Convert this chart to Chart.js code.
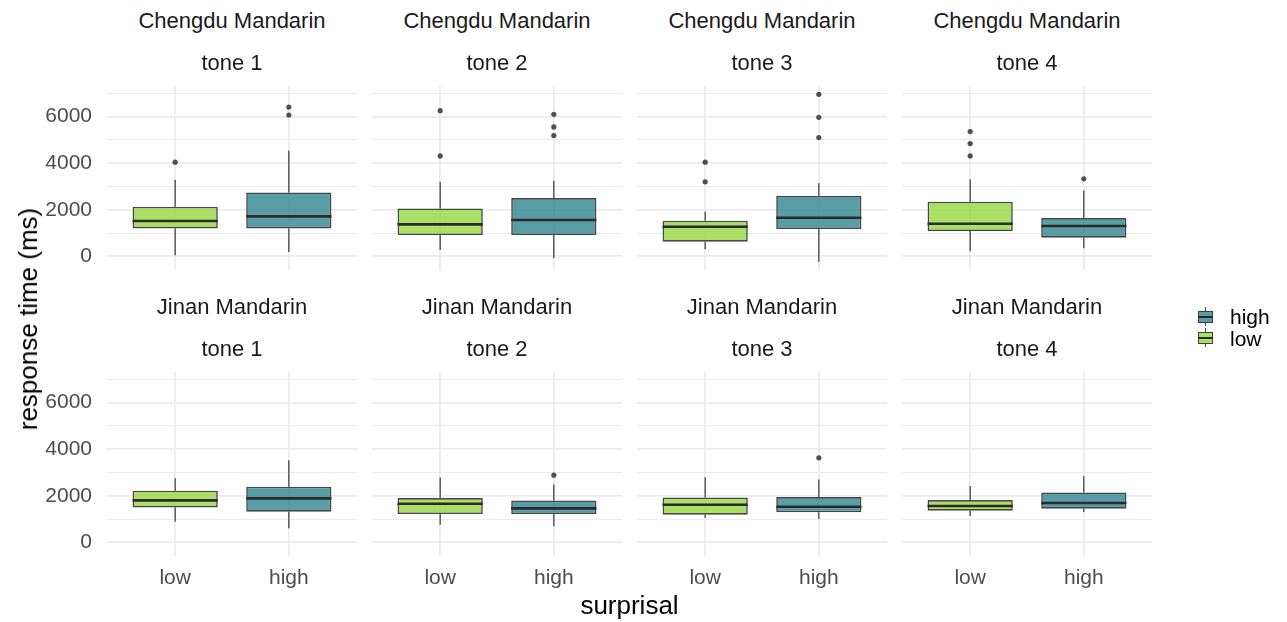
<!DOCTYPE html>
<html>
<head>
<meta charset="utf-8">
<script src="https://cdn.jsdelivr.net/npm/chart.js@4"></script>
<style>
  body { margin: 0; background: #fff; font-family: "Liberation Sans", Arial, sans-serif; }
  #wrap { position: relative; width: 1287px; height: 622px; overflow: hidden; }
  .panel { position: absolute; }
  .strip { position: absolute; width: 250px; text-align: center; font-size: 22px; line-height: 22px; color: #1a1a1a; white-space: nowrap; }
  .title { position: absolute; font-size: 26px; line-height: 26px; color: #000; white-space: nowrap; }
  .legtext { position: absolute; font-size: 21px; line-height: 21px; color: #000; }
  .kpart { position: absolute; box-sizing: border-box; }
</style>
</head>
<body>
<div id="wrap"></div>
<script>
// facets and categories
const dialects = ['Chengdu Mandarin', 'Jinan Mandarin'];
const tones = ['tone 1', 'tone 2', 'tone 3', 'tone 4'];
const surprisal = ['low', 'high'];
const yTicks = [0, 2000, 4000, 6000];
const yMinor = [1000, 3000, 5000, 7000];

// box statistics, one entry per panel: Chengdu tone 1-4, then Jinan tone 1-4
const lowWhiskerMin = [43, 271, 300, 214, 886, 757, 1043, 1129];
const lowQ1 = [1200, 914, 629, 1086, 1500, 1214, 1186, 1357];
const lowMedian = [1514, 1371, 1271, 1400, 1800, 1657, 1614, 1557];
const lowQ3 = [2129, 2057, 1529, 2343, 2214, 1900, 1929, 1814];
const lowWhiskerMax = [3286, 3200, 1929, 3314, 2757, 2786, 2800, 2414];
const lowOutliers = [[4043], [6257, 4314], [4043, 3200], [5357, 4843, 4314], [], [], [], []];

const highWhiskerMin = [186, -71, -229, 343, 600, 686, 1000, 1300];
const highQ1 = [1200, 914, 1171, 800, 1314, 1214, 1286, 1443];
const highMedian = [1714, 1557, 1657, 1300, 1886, 1457, 1529, 1686];
const highQ3 = [2743, 2500, 2600, 1643, 2386, 1800, 1943, 2143];
const highWhiskerMax = [4543, 3243, 3143, 2829, 3529, 2486, 2700, 2843];
const highOutliers = [[6414, 6071], [6100, 5557, 5186], [6957, 5971, 5100], [3329], [], [2886], [3629], []];

const FILL_LOW = 'rgba(149, 216, 64, 0.8)';
const FILL_HIGH = 'rgba(42, 131, 142, 0.78)';
const EDGE = 'rgba(51, 51, 51, 0.9)';
const GRID = '#ebebeb';
const BOX_HALF = 0.375;

Chart.defaults.font.family = '"Liberation Sans", Arial, sans-serif';

const wrap = document.getElementById('wrap');
const PANEL_W = 250, PANEL_H = 184, PAD = 30, XAX = 40;
const panelTops = [86, 372];

function el(cls, css, text) {
  const d = document.createElement('div');
  d.className = cls;
  Object.assign(d.style, css);
  if (text !== undefined) d.textContent = text;
  wrap.appendChild(d);
  return d;
}

// line data with breaks between segments
function segments(list) {
  const out = [];
  list.forEach(s => {
    out.push({x: s[0], y: s[1]}, {x: s[2], y: s[3]}, {x: s[2], y: null});
  });
  return out;
}

for (let i = 0; i < 8; i++) {
  const row = Math.floor(i / 4);
  const col = i % 4;
  const left = 107 + 265 * col;
  const top = panelTops[row];

  const stats = [
    [lowWhiskerMin[i], lowQ1[i], lowMedian[i], lowQ3[i], lowWhiskerMax[i]],
    [highWhiskerMin[i], highQ1[i], highMedian[i], highQ3[i], highWhiskerMax[i]]
  ];
  const outliers = [lowOutliers[i], highOutliers[i]];

  const box = el('panel', {
    left: (col === 0 ? 0 : left) + 'px',
    top: (top - PAD) + 'px',
    width: (col === 0 ? left + PANEL_W : PANEL_W) + 'px',
    height: (PAD + PANEL_H + (row === 1 ? XAX : 0) + PAD) + 'px'
  });
  const canvas = document.createElement('canvas');
  box.appendChild(canvas);

  const outlierPts = [];
  outliers.forEach((list, k) => list.forEach(v => outlierPts.push({x: k + 1, y: v})));

  new Chart(canvas, {
    type: 'bar',
    data: {
      datasets: [
        {
          type: 'line',
          data: outlierPts,
          showLine: false,
          pointRadius: 2.6,
          pointHoverRadius: 0,
          pointBorderWidth: 0,
          pointBackgroundColor: 'rgba(51, 51, 51, 0.85)',
          order: 0
        },
        {
          type: 'line',
          data: segments(stats.map((s, k) => [k + 1 - BOX_HALF, s[2], k + 1 + BOX_HALF, s[2]])),
          borderColor: '#2b2b2b',
          borderWidth: 2.6,
          pointRadius: 0,
          pointHoverRadius: 0,
          spanGaps: false,
          order: 1
        },
        {
          type: 'bar',
          data: stats.map((s, k) => ({x: k + 1, y: [s[1], s[3]]})),
          backgroundColor: [FILL_LOW, FILL_HIGH],
          borderColor: EDGE,
          borderWidth: 1.6,
          borderSkipped: false,
          barPercentage: 2 * BOX_HALF,
          categoryPercentage: 1,
          grouped: false,
          order: 2
        },
        {
          type: 'line',
          data: segments(stats.flatMap((s, k) => [[k + 1, s[0], k + 1, s[1]], [k + 1, s[3], k + 1, s[4]]])),
          borderColor: EDGE,
          borderWidth: 1.3,
          pointRadius: 0,
          pointHoverRadius: 0,
          spanGaps: false,
          order: 3
        }
      ]
    },
    options: {
      responsive: true,
      maintainAspectRatio: false,
      animation: false,
      events: [],
      layout: { autoPadding: false, padding: { top: PAD, bottom: PAD, left: 0, right: 0 } },
      plugins: { legend: { display: false }, tooltip: { enabled: false } },
      scales: {
        x: {
          type: 'linear',
          min: 0.4,
          max: 2.6,
          offset: false,
          afterBuildTicks: s => { s.ticks = surprisal.map((_, k) => ({value: k + 1})); },
          afterFit: s => { s.height = row === 1 ? XAX : 0; },
          grid: { color: GRID, lineWidth: 1.8, drawTicks: false, offset: false },
          border: { display: false },
          ticks: {
            display: row === 1,
            padding: 10,
            color: '#4d4d4d',
            font: { size: 21 },
            autoSkip: false,
            maxRotation: 0,
            callback: v => surprisal[v - 1]
          }
        },
        y: {
          min: -588,
          max: 7316,
          afterBuildTicks: s => {
            s.ticks = yTicks.concat(yMinor).sort((a, b) => a - b).map(v => ({value: v}));
          },
          afterFit: s => { s.width = col === 0 ? left : 0; },
          grid: {
            color: GRID,
            lineWidth: ctx => (ctx.tick && yTicks.includes(ctx.tick.value)) ? 1.8 : 1,
            drawTicks: false
          },
          border: { display: false },
          ticks: {
            display: col === 0,
            padding: 15,
            color: '#4d4d4d',
            font: { size: 21 },
            autoSkip: false,
            callback: v => yTicks.includes(v) ? String(v) : ''
          }
        }
      }
    }
  });

  // strip labels
  el('strip', { left: left + 'px', top: (top - 76.3) + 'px' }, dialects[row]);
  el('strip', { left: left + 'px', top: (top - 33.9) + 'px' }, tones[col]);
}

// axis titles
el('title', { left: '28px', top: '319px', transform: 'translate(-50%, -50%) rotate(-90deg)' }, 'response time (ms)');
el('title', { left: '0px', width: '1259px', textAlign: 'center', top: '592px' }, 'surprisal');

// legend
const legend = [
  { label: 'high', fill: FILL_HIGH, top: 306.7 },
  { label: 'low', fill: FILL_LOW, top: 328 }
];
legend.forEach(item => {
  const t = item.top;
  el('kpart', { left: '1204.5px', top: t + 'px', width: '1.3px', height: '19.3px', background: EDGE });
  el('kpart', { left: '1197.5px', top: (t + 4) + 'px', width: '15px', height: '12px', background: '#fff' });
  el('kpart', { left: '1197.5px', top: (t + 4) + 'px', width: '15px', height: '12px', background: item.fill, border: '1.5px solid ' + EDGE });
  el('kpart', { left: '1197.5px', top: (t + 9) + 'px', width: '15px', height: '2.2px', background: '#2b2b2b' });
  el('legtext', { left: '1230px', top: (t - 0.5) + 'px' }, item.label);
});
</script>
</body>
</html>
